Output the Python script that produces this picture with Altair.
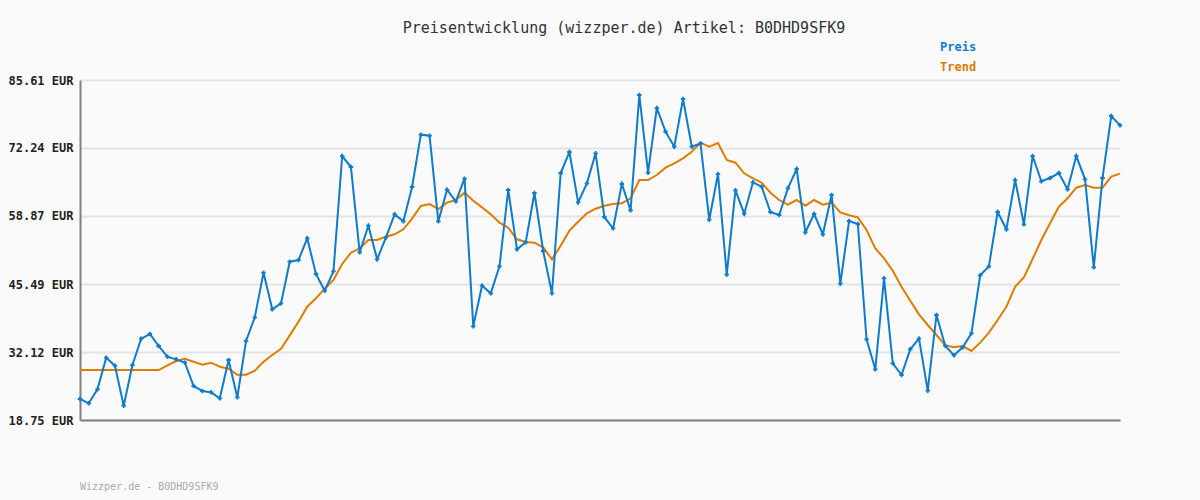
import altair as alt
import pandas as pd

preis = [
    22.88, 22.03, 24.78, 31.00, 29.43, 21.56, 29.56, 34.74, 35.66, 33.30,
    31.20, 30.68, 30.02, 25.44, 24.45, 24.19, 23.01, 30.55, 23.21, 34.28,
    38.94, 47.72, 40.51, 41.69, 49.88, 50.21, 54.47, 47.46, 44.18, 47.98,
    70.66, 68.50, 51.72, 56.96, 50.34, 54.60, 59.19, 57.81, 64.57, 74.86,
    74.66, 57.81, 64.04, 61.75, 66.21, 37.17, 45.16, 43.66, 48.97, 63.98,
    52.31, 53.69, 63.39, 51.98, 43.66, 67.32, 71.45, 61.56, 65.29, 71.19,
    58.67, 56.44, 65.16, 59.98, 82.66, 67.39, 80.10, 75.45, 72.50, 81.87,
    72.50, 73.15, 58.14, 67.12, 47.33, 63.91, 59.32, 65.49, 64.63, 59.65,
    59.06, 64.31, 68.11, 55.66, 59.26, 55.27, 63.00, 45.55, 57.88, 57.29,
    34.61, 28.72, 46.61, 29.90, 27.60, 32.65, 34.74, 24.51, 39.40, 33.36,
    31.47, 33.04, 35.80, 47.20, 48.97, 59.65, 56.25, 65.94, 57.23, 70.66,
    65.69, 66.34, 67.32, 64.12, 70.66, 66.08, 48.78, 66.34, 78.53, 76.70,
]

trend = [
    28.58, 28.58, 28.58, 28.58, 28.58, 28.58, 28.58, 28.58, 28.58, 28.58,
    29.50, 30.35, 30.80, 30.20, 29.62, 30.02, 29.23, 28.84, 27.65, 27.65,
    28.45, 30.20, 31.53, 32.77, 35.40, 38.08, 41.03, 42.68, 44.57, 46.28,
    49.43, 51.65, 52.50, 54.15, 54.15, 54.80, 55.27, 56.25, 58.34, 60.83,
    61.22, 60.24, 61.49, 62.01, 63.45, 61.88, 60.57, 59.19, 57.55, 56.57,
    54.28, 53.75, 53.62, 52.70, 50.34, 53.02, 55.98, 57.74, 59.39, 60.30,
    60.89, 61.22, 61.35, 62.34, 65.94, 65.94, 66.93, 68.37, 69.22, 70.21,
    71.51, 73.28, 72.50, 73.22, 69.88, 69.35, 67.26, 66.28, 65.41, 63.45,
    62.01, 61.09, 62.01, 60.89, 62.01, 61.09, 61.49, 59.58, 59.00, 58.60,
    56.11, 52.50, 50.54, 48.10, 44.96, 42.21, 39.53, 37.43, 35.46, 33.43,
    33.04, 33.30, 32.32, 33.96, 35.92, 38.41, 41.03, 44.96, 46.80, 50.41,
    54.15, 57.43, 60.70, 62.34, 64.43, 64.96, 64.43, 64.43, 66.60, 67.19,
]

y_ticks = [18.75, 32.12, 45.49, 58.87, 72.24, 85.61]
series_names = ["Preis", "Trend"]
series_colors = ["#0f7bcc", "#e07b00"]
title_text = "Preisentwicklung (wizzper.de) Artikel: B0DHD9SFK9"
footer_text = "Wizzper.de - B0DHD9SFK9"

FONT = "DejaVu Sans Mono"

df = pd.DataFrame({
    "i": list(range(len(preis))),
    "Preis": preis,
    "Trend": trend,
})

x_enc = alt.X(
    "i:Q",
    scale=alt.Scale(domain=[0, len(preis) - 1], nice=False, zero=False),
    axis=alt.Axis(
        title=None, labels=False, ticks=False, grid=False,
        domain=True, domainColor="#808080", domainWidth=2,
    ),
)

y_scale = alt.Scale(domain=[y_ticks[0], y_ticks[-1]], nice=False, zero=False)

base = alt.Chart(df)

trend_line = base.mark_line(color=series_colors[1], strokeWidth=2).encode(
    x=x_enc,
    y=alt.Y(
        "Trend:Q",
        scale=y_scale,
        axis=alt.Axis(
            title=None,
            values=y_ticks,
            labelExpr="format(datum.value, '.2f') + ' EUR'",
            labelFont=FONT, labelFontSize=12, labelFontWeight="bold",
            labelColor="#222222", labelPadding=7,
            ticks=False, grid=True, gridColor="#e4e4e4", gridWidth=2,
            domain=True, domainColor="#808080", domainWidth=2,
        ),
    ),
)

price_line = base.mark_line(color=series_colors[0], strokeWidth=2).encode(
    x="i:Q", y=alt.Y("Preis:Q", scale=y_scale)
)

price_pts = base.mark_point(
    shape="cross", filled=True, color=series_colors[0], size=20, opacity=1
).encode(x="i:Q", y=alt.Y("Preis:Q", scale=y_scale))


def label(text, color, x, y, size=12, weight="bold", align="left"):
    return alt.Chart(pd.DataFrame({"t": [text]})).mark_text(
        font=FONT, fontSize=size, fontWeight=weight, color=color,
        align=align, baseline="middle",
    ).encode(text="t:N", x=alt.value(x), y=alt.value(y))


title = label(title_text, "#333333", 544, -52, size=15, weight="normal", align="center")
legend_preis = label(series_names[0], series_colors[0], 860, -33)
legend_trend = label(series_names[1], series_colors[1], 860, -13)
footer = label(footer_text, "#aaaaaa", 0, 407, size=10, weight="normal")

chart = alt.layer(
    trend_line, price_line, price_pts, title, legend_preis, legend_trend, footer
).properties(
    width=1040,
    height=340,
    background="#fafafa",
    padding={"left": 80, "top": 80, "right": 80, "bottom": 80},
    autosize=alt.AutoSizeParams(type="none"),
).configure_view(stroke=None, fill="#fafafa")

chart.save("out.html", embed_options={"renderer": "svg", "actions": False})
